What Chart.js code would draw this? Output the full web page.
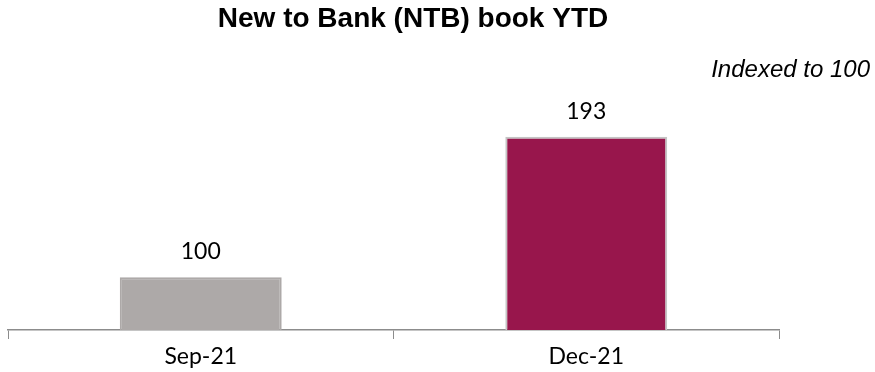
<!DOCTYPE html>
<html>
<head>
<meta charset="utf-8">
<script src="https://cdn.jsdelivr.net/npm/chart.js@4/dist/chart.umd.min.js"></script>
<style>
  html, body { margin: 0; padding: 0; background: #fff; }
  #wrap { width: 875px; height: 372px; }
</style>
</head>
<body>
<div id="wrap"><canvas id="myChartNTB"></canvas></div>
<script>
// data
var labels = ["Sep-21", "Dec-21"];
var values = [100, 193];
var barColors = ["#ADA9A8", "#98164C"];
var borderColors = ["#ADA9A8", "#C4C4C4"];

var titleText = "New to Bank (NTB) book YTD";
var noteText = "Indexed to 100";

// title, note and value labels
var textPlugin = {
    id: "texts",
    afterDatasetsDraw: function (chart) {
        var ctx = chart.ctx;
        ctx.save();
        ctx.fillStyle = "#000";
        ctx.textBaseline = "alphabetic";
        ctx.textAlign = "center";
        ctx.font = "bold 28px 'Liberation Sans', Arial, sans-serif";
        ctx.fillText(titleText, 413, 27);

        ctx.textAlign = "right";
        ctx.font = "italic 24px 'Liberation Sans', Arial, sans-serif";
        ctx.fillText(noteText, 870, 77);

        ctx.textAlign = "center";
        ctx.font = "23px Lato, sans-serif";
        var meta = chart.getDatasetMeta(0);
        meta.data.forEach(function (bar, i) {
            ctx.fillText(values[i], bar.x, bar.y - 18);
        });
        ctx.restore();
    }
};

new Chart("myChartNTB", {
    type: "bar",
    data: {
        labels: labels,
        datasets: [{
            data: values,
            backgroundColor: barColors,
            borderColor: borderColors,
            borderWidth: 2,
            borderSkipped: "bottom",
            barPercentage: 0.42,
            categoryPercentage: 1
        }]
    },
    options: {
        responsive: true,
        maintainAspectRatio: false,
        animation: false,
        layout: { padding: { top: 96, left: 8, right: 96, bottom: -2 } },
        plugins: {
            legend: { display: false },
            tooltip: { enabled: false },
            title: { display: false }
        },
        scales: {
            x: {
                grid: {
                    offset: true,
                    drawOnChartArea: false,
                    drawTicks: true,
                    tickLength: 9,
                    color: "#8C8C8C"
                },
                border: { color: "#8C8C8C", width: 1.5 },
                ticks: {
                    color: "#000",
                    padding: 6,
                    font: { family: "Lato, sans-serif", size: 23, lineHeight: 1 }
                }
            },
            y: {
                display: false,
                min: 65,
                max: 220
            }
        }
    },
    plugins: [textPlugin]
});
</script>
</body>
</html>
